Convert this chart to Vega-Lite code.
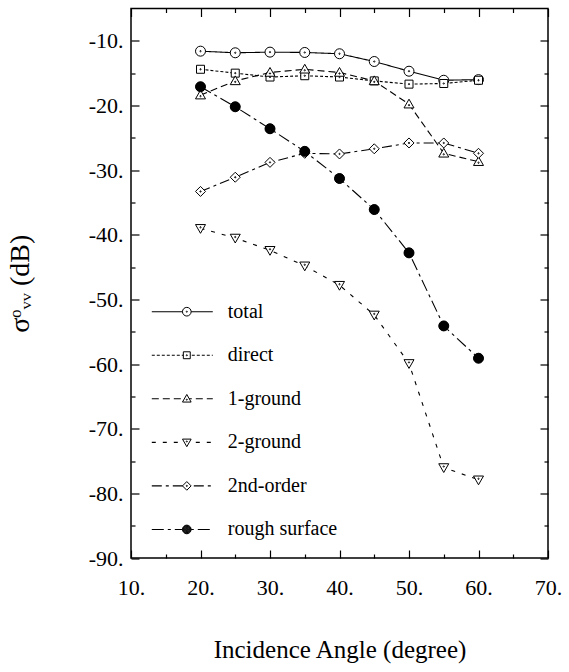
{
  "$schema": "https://vega.github.io/schema/vega-lite/v6.json",
  "width": 417,
  "height": 549.5,
  "autosize": {"type": "none"},
  "padding": {"left": 131, "top": 8.5, "right": 21, "bottom": 114},
  "background": "white",
  "config": {
    "view": {"stroke": "black", "strokeWidth": 1.5},
    "font": "Liberation Serif",
    "axis": {"grid": false, "domain": false, "tickColor": "black", "tickWidth": 1.2, "labelColor": "black", "titleColor": "black", "labelFont": "Liberation Serif", "titleFont": "Liberation Serif", "titleFontWeight": "normal", "labelFlush": false, "labelOverlap": false},
    "legend": {"labelFont": "Liberation Serif"}
  },
  "data": {
    "values": [
      {"angle": 20, "sigma": -11.6, "series": "total"},
      {"angle": 25, "sigma": -11.85, "series": "total"},
      {"angle": 30, "sigma": -11.75, "series": "total"},
      {"angle": 35, "sigma": -11.8, "series": "total"},
      {"angle": 40, "sigma": -12.0, "series": "total"},
      {"angle": 45, "sigma": -13.2, "series": "total"},
      {"angle": 50, "sigma": -14.7, "series": "total"},
      {"angle": 55, "sigma": -16.1, "series": "total"},
      {"angle": 60, "sigma": -16.0, "series": "total"},
      {"angle": 20, "sigma": -14.4, "series": "direct"},
      {"angle": 25, "sigma": -15.0, "series": "direct"},
      {"angle": 30, "sigma": -15.6, "series": "direct"},
      {"angle": 35, "sigma": -15.4, "series": "direct"},
      {"angle": 40, "sigma": -15.6, "series": "direct"},
      {"angle": 45, "sigma": -16.2, "series": "direct"},
      {"angle": 50, "sigma": -16.7, "series": "direct"},
      {"angle": 55, "sigma": -16.6, "series": "direct"},
      {"angle": 60, "sigma": -16.1, "series": "direct"},
      {"angle": 20, "sigma": -18.4, "series": "1-ground"},
      {"angle": 25, "sigma": -16.2, "series": "1-ground"},
      {"angle": 30, "sigma": -14.9, "series": "1-ground"},
      {"angle": 35, "sigma": -14.4, "series": "1-ground"},
      {"angle": 40, "sigma": -14.9, "series": "1-ground"},
      {"angle": 45, "sigma": -16.2, "series": "1-ground"},
      {"angle": 50, "sigma": -19.8, "series": "1-ground"},
      {"angle": 55, "sigma": -27.4, "series": "1-ground"},
      {"angle": 60, "sigma": -28.7, "series": "1-ground"},
      {"angle": 20, "sigma": -39.0, "series": "2-ground"},
      {"angle": 25, "sigma": -40.5, "series": "2-ground"},
      {"angle": 30, "sigma": -42.4, "series": "2-ground"},
      {"angle": 35, "sigma": -44.8, "series": "2-ground"},
      {"angle": 40, "sigma": -47.8, "series": "2-ground"},
      {"angle": 45, "sigma": -52.4, "series": "2-ground"},
      {"angle": 50, "sigma": -59.9, "series": "2-ground"},
      {"angle": 55, "sigma": -76.0, "series": "2-ground"},
      {"angle": 60, "sigma": -77.9, "series": "2-ground"},
      {"angle": 20, "sigma": -33.3, "series": "2nd-order"},
      {"angle": 25, "sigma": -31.1, "series": "2nd-order"},
      {"angle": 30, "sigma": -28.8, "series": "2nd-order"},
      {"angle": 35, "sigma": -27.4, "series": "2nd-order"},
      {"angle": 40, "sigma": -27.5, "series": "2nd-order"},
      {"angle": 45, "sigma": -26.7, "series": "2nd-order"},
      {"angle": 50, "sigma": -25.8, "series": "2nd-order"},
      {"angle": 55, "sigma": -25.8, "series": "2nd-order"},
      {"angle": 60, "sigma": -27.4, "series": "2nd-order"},
      {"angle": 20, "sigma": -17.1, "series": "rough surface"},
      {"angle": 25, "sigma": -20.2, "series": "rough surface"},
      {"angle": 30, "sigma": -23.6, "series": "rough surface"},
      {"angle": 35, "sigma": -27.1, "series": "rough surface"},
      {"angle": 40, "sigma": -31.3, "series": "rough surface"},
      {"angle": 45, "sigma": -36.1, "series": "rough surface"},
      {"angle": 50, "sigma": -42.8, "series": "rough surface"},
      {"angle": 55, "sigma": -54.1, "series": "rough surface"},
      {"angle": 60, "sigma": -59.1, "series": "rough surface"}
    ]
  },
  "layer": [
    {
      "mark": {"type": "line", "color": "black", "strokeWidth": 1.1},
      "encoding": {
        "x": {
          "field": "angle", "type": "quantitative",
          "scale": {"domain": [10, 70], "nice": false, "zero": false},
          "axis": {
            "orient": "bottom",
            "values": [10, 15, 20, 25, 30, 35, 40, 45, 50, 55, 60, 65, 70],
            "labelExpr": "datum.value % 10 === 0 ? datum.value + '.' : ''",
            "tickSize": {"condition": {"test": "datum.value % 10 === 0", "value": -8}, "value": -4},
            "labelFontSize": 22, "labelPadding": 27,
            "title": "Incidence Angle (degree)", "titleFontSize": 25, "titlePadding": 35
          }
        },
        "y": {
          "field": "sigma", "type": "quantitative",
          "scale": {"domain": [-90, -5], "nice": false, "zero": false},
          "axis": {
            "orient": "left",
            "values": [-90, -85, -80, -75, -70, -65, -60, -55, -50, -45, -40, -35, -30, -25, -20, -15, -10],
            "labelExpr": "datum.value % 10 === 0 ? datum.value + '.' : ''",
            "tickSize": {"condition": {"test": "datum.value % 10 === 0", "value": -8}, "value": -4},
            "labelFontSize": 22, "labelPadding": 16,
            "title": "σᵒᵥᵥ  (dB)", "titleFontSize": 28, "titlePadding": 54
          }
        },
        "strokeDash": {
          "field": "series", "type": "nominal",
          "sort": ["total", "direct", "1-ground", "2-ground", "2nd-order", "rough surface"],
          "scale": {
            "range": [[1, 0], [3, 2], [7, 4], [4, 7], [10, 4, 3, 4], [12, 4, 3, 4]]
          },
          "legend": {
            "title": null, "orient": "none", "legendX": 19.8, "legendY": 293.2,
            "symbolType": "stroke", "symbolSize": 3721, "symbolStrokeColor": "black", "symbolStrokeWidth": 1.1,
            "labelFontSize": 20, "labelColor": "black", "labelOffset": 14,
            "clipHeight": 20, "rowPadding": 23.55, "padding": 0, "zindex": 0
          }
        }
      }
    },
    {
      "mark": {"type": "point", "filled": false, "fill": "white", "fillOpacity": 1, "stroke": "black", "color": "black", "strokeWidth": 1, "size": 100, "opacity": 1},
      "encoding": {
        "x": {
          "field": "angle", "type": "quantitative",
          "axis": {
            "orient": "top", "labels": false, "title": null,
            "values": [10, 15, 20, 25, 30, 35, 40, 45, 50, 55, 60, 65, 70],
            "tickSize": {"condition": {"test": "datum.value % 10 === 0", "value": -8}, "value": -4}
          }
        },
        "y": {
          "field": "sigma", "type": "quantitative",
          "axis": {
            "orient": "right", "labels": false, "title": null,
            "values": [-90, -85, -80, -75, -70, -65, -60, -55, -50, -45, -40, -35, -30, -25, -20, -15, -10],
            "tickSize": {"condition": {"test": "datum.value % 10 === 0", "value": -8}, "value": -4}
          }
        },
        "shape": {
          "field": "series", "type": "nominal",
          "scale": {
            "domain": ["total", "direct", "1-ground", "2-ground", "2nd-order", "rough surface"],
            "range": [
              "M1,0A1,1,0,1,0,-1,0A1,1,0,1,0,1,0Z M0.13,0A0.13,0.13,0,1,0,-0.13,0A0.13,0.13,0,1,0,0.13,0Z",
              "M-0.8,-0.8H0.8V0.8H-0.8Z M0.13,0A0.13,0.13,0,1,0,-0.13,0A0.13,0.13,0,1,0,0.13,0Z",
              "M0,-1L1,0.75L-1,0.75Z M0.13,0.2A0.13,0.13,0,1,0,-0.13,0.2A0.13,0.13,0,1,0,0.13,0.2Z",
              "M0,1L1,-0.75L-1,-0.75Z M0.13,-0.2A0.13,0.13,0,1,0,-0.13,-0.2A0.13,0.13,0,1,0,0.13,-0.2Z",
              "M0,-1L1,0L0,1L-1,0Z M0.13,0A0.13,0.13,0,1,0,-0.13,0A0.13,0.13,0,1,0,0.13,0Z",
              "M1,0A1,1,0,1,0,-1,0A1,1,0,1,0,1,0Z M0.88,0A0.88,0.88,0,1,0,-0.88,0A0.88,0.88,0,1,0,0.88,0Z M0.76,0A0.76,0.76,0,1,0,-0.76,0A0.76,0.76,0,1,0,0.76,0Z M0.64,0A0.64,0.64,0,1,0,-0.64,0A0.64,0.64,0,1,0,0.64,0Z M0.52,0A0.52,0.52,0,1,0,-0.52,0A0.52,0.52,0,1,0,0.52,0Z M0.4,0A0.4,0.4,0,1,0,-0.4,0A0.4,0.4,0,1,0,0.4,0Z M0.28,0A0.28,0.28,0,1,0,-0.28,0A0.28,0.28,0,1,0,0.28,0Z M0.16,0A0.16,0.16,0,1,0,-0.16,0A0.16,0.16,0,1,0,0.16,0Z M0.05,0A0.05,0.05,0,1,0,-0.05,0A0.05,0.05,0,1,0,0.05,0Z"
            ]
          },
          "legend": {
            "title": null, "orient": "none", "legendX": 45.8, "legendY": 293.2,
            "symbolSize": 75, "symbolStrokeWidth": 1, "symbolFillColor": "white",
            "labelExpr": "''", "labelFontSize": 20, "labelOpacity": 0,
            "clipHeight": 20, "rowPadding": 23.55, "padding": 0, "zindex": 1
          }
        }
      }
    },
    {
      "transform": [{"filter": "datum.series === 'rough surface'"}],
      "mark": {"type": "point", "shape": "circle", "filled": true, "color": "black", "size": 100, "opacity": 1},
      "encoding": {
        "x": {"field": "angle", "type": "quantitative", "axis": null},
        "y": {"field": "sigma", "type": "quantitative", "axis": null}
      }
    }
  ],
  "resolve": {"axis": {"x": "independent", "y": "independent"}}
}
